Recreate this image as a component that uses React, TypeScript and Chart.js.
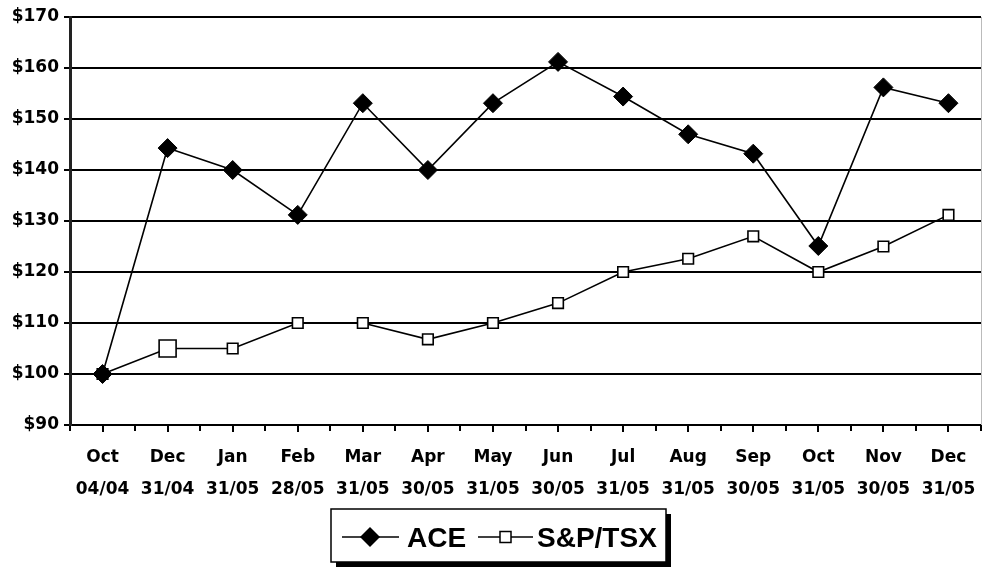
import React, { useEffect, useRef } from "react";
import { Chart, registerables } from "chart.js";

Chart.register(...registerables);

const categories: string[][] = [
  ["Oct", "04/04"], ["Dec", "31/04"], ["Jan", "31/05"], ["Feb", "28/05"],
  ["Mar", "31/05"], ["Apr", "30/05"], ["May", "31/05"], ["Jun", "30/05"],
  ["Jul", "31/05"], ["Aug", "31/05"], ["Sep", "30/05"], ["Oct", "31/05"],
  ["Nov", "30/05"], ["Dec", "31/05"],
];
const aceValues = [100, 144.3, 140, 131.2, 153.1, 140, 153.1, 161.2, 154.4, 147.0, 143.2, 125.1, 156.2, 153.1];
const tsxValues = [100, 105, 105, 110, 110, 106.8, 110, 113.9, 120, 122.6, 127.0, 120, 125, 131.2];
const tsxRadii = [7.5, 12, 7.5, 7.5, 7.5, 7.5, 7.5, 7.5, 7.5, 7.5, 7.5, 7.5, 7.5, 7.5];
const seriesNames = ["ACE", "S&P/TSX"];
const yMin = 90;
const yMax = 170;
const yStep = 10;

const AXIS_FONT = "'DejaVu Sans', sans-serif";
const LEGEND_FONT = "'Liberation Sans', Arial, sans-serif";

const extrasPlugin = {
  id: "extras",
  afterDraw(chart: any) {
    const ctx = chart.ctx as CanvasRenderingContext2D;
    const xs = chart.scales.x;
    const area = chart.chartArea;
    ctx.save();
    // tick marks at category centres
    ctx.strokeStyle = "#000";
    ctx.lineWidth = 2;
    for (let i = 0; i < categories.length; i++) {
      const px = Math.round(xs.getPixelForValue(i));
      ctx.beginPath();
      ctx.moveTo(px, area.bottom);
      ctx.lineTo(px, area.bottom + 7);
      ctx.stroke();
    }
    // faint right border
    ctx.strokeStyle = "#bbb";
    ctx.lineWidth = 1;
    ctx.beginPath();
    ctx.moveTo(area.right + 0.5, area.top);
    ctx.lineTo(area.right + 0.5, area.bottom);
    ctx.stroke();

    // legend box
    const lx = 331, ly = 509, lw = 335, lh = 53;
    ctx.fillStyle = "#000";
    ctx.fillRect(lx + 5, ly + 5, lw, lh);
    ctx.fillStyle = "#fff";
    ctx.fillRect(lx, ly, lw, lh);
    ctx.strokeStyle = "#000";
    ctx.lineWidth = 1.5;
    ctx.strokeRect(lx, ly, lw, lh);

    const cy = 537;
    // ACE symbol
    ctx.lineWidth = 1.5;
    ctx.beginPath();
    ctx.moveTo(342, cy);
    ctx.lineTo(399, cy);
    ctx.stroke();
    ctx.fillStyle = "#000";
    ctx.beginPath();
    ctx.moveTo(370 - 10, cy);
    ctx.lineTo(370, cy - 10);
    ctx.lineTo(370 + 10, cy);
    ctx.lineTo(370, cy + 10);
    ctx.closePath();
    ctx.fill();
    // S&P symbol
    ctx.beginPath();
    ctx.moveTo(478, cy);
    ctx.lineTo(533, cy);
    ctx.stroke();
    ctx.fillStyle = "#fff";
    ctx.fillRect(500, cy - 5.5, 11, 11);
    ctx.strokeRect(500, cy - 5.5, 11, 11);

    ctx.fillStyle = "#000";
    ctx.font = `bold 28px ${LEGEND_FONT}`;
    ctx.textBaseline = "alphabetic";
    ctx.textAlign = "left";
    ctx.fillText(seriesNames[0], 407, 547);
    ctx.fillText(seriesNames[1], 537, 547);
    ctx.restore();
  },
};

export default function App() {
  const ref = useRef<HTMLCanvasElement | null>(null);
  useEffect(() => {
    document.body.style.margin = "0";
    const canvas = ref.current!;
    const chart = new Chart(canvas, {
      type: "line",
      data: {
        labels: categories,
        datasets: [
          {
            label: seriesNames[0],
            data: aceValues,
            borderColor: "#000",
            borderWidth: 1.6,
            backgroundColor: "#000",
            pointStyle: "rectRot",
            pointRadius: 9.5,
            pointBorderWidth: 1,
            pointBorderColor: "#000",
            pointBackgroundColor: "#000",
            tension: 0,
            clip: false,
          },
          {
            label: seriesNames[1],
            data: tsxValues,
            borderColor: "#000",
            borderWidth: 1.6,
            backgroundColor: "#fff",
            pointStyle: "rect",
            pointRadius: tsxRadii,
            pointBorderWidth: 1.6,
            pointBorderColor: "#000",
            pointBackgroundColor: "#fff",
            tension: 0,
            clip: false,
          },
        ],
      },
      options: {
        responsive: false,
        animation: false,
        devicePixelRatio: 1,
        layout: { autoPadding: false, padding: { top: 17, right: 1, left: 0, bottom: 0 } },
        plugins: { legend: { display: false }, tooltip: { enabled: false } },
        scales: {
          x: {
            type: "category",
            offset: true,
            grid: {
              drawOnChartArea: false,
              drawTicks: true,
              tickLength: 6,
              color: "#000",
              lineWidth: 2,
              offset: true,
            },
            border: { display: true, color: "#000", width: 2 },
            ticks: {
              autoSkip: false,
              maxRotation: 0,
              minRotation: 0,
              padding: 11,
              color: "#000",
              font: { family: AXIS_FONT, size: 17, weight: "bold", lineHeight: "32px" },
            },
            afterFit: (scale: any) => {
              scale.height = 146;
              scale.paddingLeft = 0;
              scale.paddingRight = 0;
            },
          },
          y: {
            min: yMin,
            max: yMax,
            ticks: {
              stepSize: yStep,
              padding: 5,
              color: "#000",
              font: { family: AXIS_FONT, size: 17, weight: "bold" },
              callback: (v: any) => "$" + v,
            },
            grid: {
              color: "#000",
              lineWidth: 2,
              tickLength: 6,
              drawTicks: true,
            },
            border: { display: true, color: "#222", width: 3 },
            afterFit: (scale: any) => {
              scale.width = 70;
            },
          },
        },
      },
      plugins: [extrasPlugin],
    });
    return () => chart.destroy();
  }, []);
  return (
    <div style={{ position: "absolute", left: 0, top: 0, width: 982, height: 571 }}>
      <canvas ref={ref} width={982} height={571} style={{ display: "block" }} />
    </div>
  );
}
